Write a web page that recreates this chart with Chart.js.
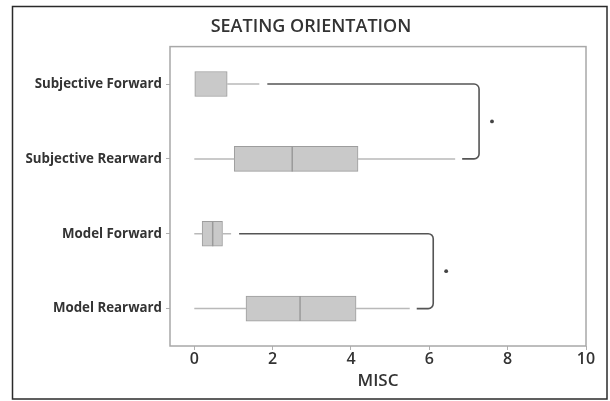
<!DOCTYPE html>
<html>
<head>
<meta charset="utf-8">
<script src="https://cdn.jsdelivr.net/npm/chart.js@4/dist/chart.umd.min.js"></script>
<style>
  html, body { margin: 0; padding: 0; background: #fff; }
  #wrap { width: 610px; height: 401px; position: relative; }
</style>
</head>
<body>
<div id="wrap"><canvas id="c"></canvas></div>
<script>
// Seating orientation groups (top to bottom)
const categories = ['Subjective Forward', 'Subjective Rearward', 'Model Forward', 'Model Rearward'];

// Five-number summaries of MISC per group
const mins    = [0,    0,    0,    0];
const q1      = [0,    1.02, 0.20, 1.32];
const medians = [0,    2.50, 0.47, 2.70];
const q3      = [0.84, 4.18, 0.72, 4.13];
const maxs    = [1.66, 6.66, 0.94, 5.50];

// Significance brackets: [upper group, lower group], bracket position and marker position on MISC axis
const bracketPairs = [[0, 1], [2, 3]];
const bracketX     = [7.27, 6.10];
const markerX      = [7.60, 6.43];

const xTicks = [0, 2, 4, 6, 8, 10];

const boxData = categories.map((_, i) => [q1[i], q3[i]]);

const boxPlotExtras = {
  id: 'boxPlotExtras',
  afterLayout(chart) {
    // centre the title over the framed figure rather than the whole canvas
    const t = chart.titleBlock;
    if (t) {
      const w = t.right - t.left;
      t.left = 30;
      t.right = 30 + w - 24;
      t.width = t.right - t.left;
    }
  },
  afterDatasetsDraw(chart) {
    const ctx = chart.ctx;
    const xs = chart.scales.x, ys = chart.scales.y;
    const half = 12.5;
    ctx.save();
    // whiskers
    ctx.strokeStyle = '#b9b9b9';
    ctx.lineWidth = 1.5;
    categories.forEach((_, i) => {
      const y = ys.getPixelForValue(i);
      ctx.beginPath();
      if (mins[i] < q1[i]) {
        ctx.moveTo(xs.getPixelForValue(mins[i]), y);
        ctx.lineTo(xs.getPixelForValue(q1[i]), y);
      }
      if (maxs[i] > q3[i]) {
        ctx.moveTo(xs.getPixelForValue(q3[i]), y);
        ctx.lineTo(xs.getPixelForValue(maxs[i]), y);
      }
      ctx.stroke();
    });
    // medians (skipped where the median sits on the box edge)
    ctx.strokeStyle = '#9a9a9a';
    ctx.lineWidth = 1.5;
    categories.forEach((_, i) => {
      if (medians[i] <= q1[i] || medians[i] >= q3[i]) return;
      const y = ys.getPixelForValue(i);
      const x = xs.getPixelForValue(medians[i]);
      ctx.beginPath();
      ctx.moveTo(x, y - half);
      ctx.lineTo(x, y + half);
      ctx.stroke();
    });
    // brackets
    ctx.strokeStyle = '#555';
    ctx.lineWidth = 1.6;
    const r = 5;
    bracketPairs.forEach(([a, b], k) => {
      const ya = ys.getPixelForValue(a), yb = ys.getPixelForValue(b);
      const xa = xs.getPixelForValue(maxs[a]) + 8;
      const xb = xs.getPixelForValue(maxs[b]) + 7;
      const xv = xs.getPixelForValue(bracketX[k]);
      ctx.beginPath();
      ctx.moveTo(xa, ya);
      ctx.arcTo(xv, ya, xv, ya + r, r);
      ctx.arcTo(xv, yb, xv - r, yb, r);
      ctx.lineTo(xb, yb);
      ctx.stroke();
      // significance marker
      ctx.fillStyle = '#444';
      ctx.beginPath();
      ctx.arc(xs.getPixelForValue(markerX[k]), (ya + yb) / 2, 1.9, 0, Math.PI * 2);
      ctx.fill();
    });
    ctx.restore();
  },
  afterDraw(chart) {
    const ctx = chart.ctx;
    const a = chart.chartArea;
    ctx.save();
    // plot frame
    ctx.strokeStyle = '#a8a8a8';
    ctx.lineWidth = 1.5;
    ctx.strokeRect(a.left, a.top, a.right - a.left, a.bottom - a.top);
    // outer frame
    ctx.strokeStyle = '#2a2a2a';
    ctx.lineWidth = 1.5;
    ctx.strokeRect(12.5, 6.5, 594.5, 392.5);
    ctx.restore();
  }
};

new Chart(document.getElementById('c'), {
  type: 'bar',
  data: {
    labels: categories,
    datasets: [{
      label: 'MISC',
      data: boxData,
      backgroundColor: '#c9c9c9',
      borderColor: '#9d9d9d',
      borderWidth: 1,
      borderSkipped: false,
      barThickness: 25
    }]
  },
  options: {
    indexAxis: 'y',
    responsive: true,
    maintainAspectRatio: false,
    animation: false,
    layout: { padding: { left: 0, right: 24, top: 0, bottom: 0 } },
    plugins: {
      legend: { display: false },
      tooltip: { enabled: false },
      title: {
        display: true,
        text: 'SEATING ORIENTATION',
        color: '#333',
        font: { family: 'Open Sans', size: 18, weight: '600' },
        padding: { top: 16, bottom: 9 }
      }
    },
    scales: {
      x: {
        type: 'linear',
        min: -0.62,
        max: 10,
        afterBuildTicks(scale) { scale.ticks = xTicks.map(v => ({ value: v })); },
        afterFit(scale) { scale.height = 55; },
        grid: { drawOnChartArea: false, drawTicks: true, tickLength: 4, color: '#b0b0b0' },
        border: { display: false },
        ticks: {
          color: '#333',
          padding: 0,
          font: { family: 'Open Sans', size: 16, weight: '600' }
        },
        title: {
          display: true,
          text: 'MISC',
          color: '#333',
          font: { family: 'Open Sans', size: 17, weight: '600' },
          padding: { top: 10, bottom: 10 }
        }
      },
      y: {
        type: 'category',
        offset: true,
        afterFit(scale) { scale.width = 170; },
        grid: { offset: false, drawOnChartArea: false, drawTicks: true, tickLength: 4, color: '#b0b0b0' },
        border: { display: false },
        ticks: {
          color: '#333',
          padding: 4,
          font: { family: 'Open Sans', size: 13.3, weight: 'bold' }
        }
      }
    }
  },
  plugins: [boxPlotExtras]
});
</script>
</body>
</html>
